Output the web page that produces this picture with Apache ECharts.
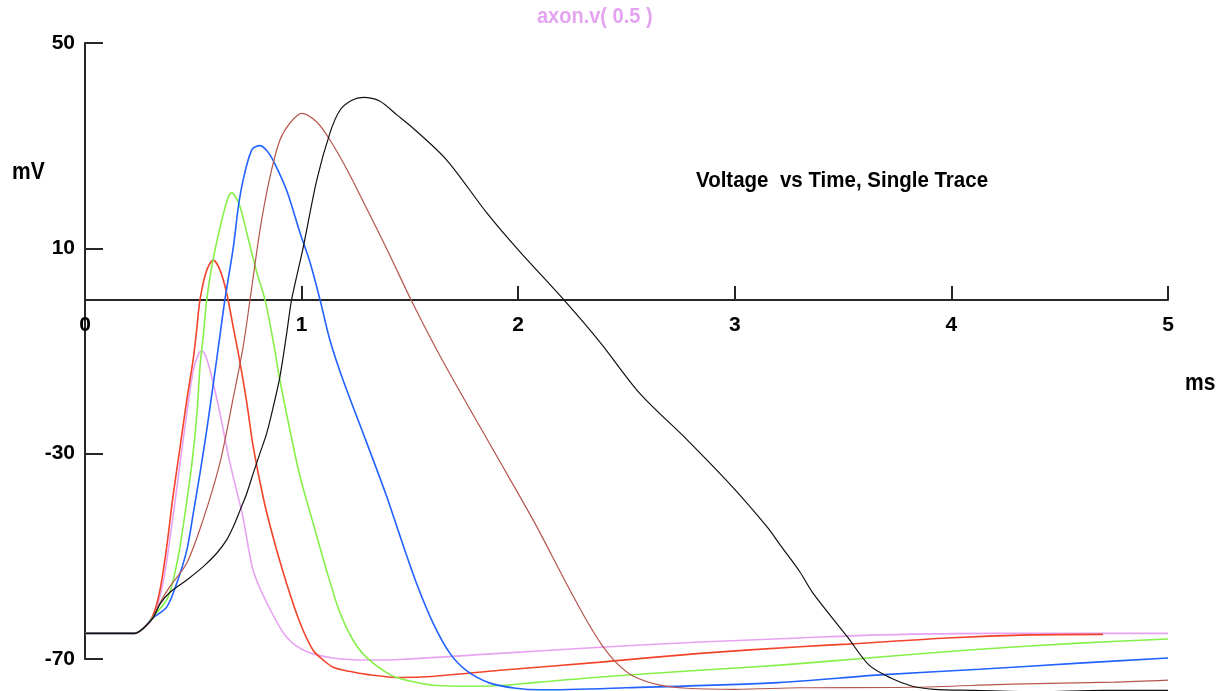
<!DOCTYPE html>
<html>
<head>
<meta charset="utf-8">
<title>axon.v( 0.5 )</title>
<script src="https://cdn.jsdelivr.net/npm/echarts@6/dist/echarts.min.js"></script>
<style>
	html, body {
		margin: 0;
		padding: 0;
		background: #fff;
	}

	#chart {
		width: 1223px;
		height: 691px;
	}
</style>
</head>

<body>
	<div id="chart"></div>
	<script>
		// 坐标轴刻度
		var xTicks = [0, 1, 2, 3, 4, 5];
		var yTicks = [-70, -30, 10, 50];

		// 各条曲线 [t(ms), v(mV)]
		var traceViolet = [[0, -65], [0.23, -65], [0.27, -64], [0.314, -61.8], [0.36, -55.2], [0.406, -42.3], [0.439, -31.8], [0.47, -22.1], [0.5, -13.7], [0.525, -10.5], [0.539, -10], [0.555, -10.8], [0.577, -13.7], [0.623, -22.1], [0.669, -31.8], [0.729, -42.3], [0.776, -52.7], [0.84, -59.1], [0.93, -65.7], [1.025, -68.6], [1.145, -69.8], [1.3, -70.2], [1.454, -70.1], [1.916, -68.9], [2.38, -67.7], [2.84, -66.7], [3.3, -65.9], [3.67, -65.3], [4.2, -65], [5, -65]];
		var traceRed = [[0, -65], [0.23, -65], [0.27, -64], [0.314, -61.5], [0.346, -56.6], [0.377, -48.2], [0.406, -38.4], [0.439, -28.7], [0.47, -19.5], [0.5, -11.5], [0.517, -5.3], [0.531, 0], [0.56, 5.5], [0.592, 7.7], [0.623, 5.8], [0.654, 1.3], [0.685, -5.5], [0.716, -12.3], [0.747, -20.1], [0.776, -28.5], [0.822, -38.4], [0.868, -46.2], [0.93, -55.2], [0.993, -63], [1.053, -68.3], [1.1, -70.2], [1.145, -71.6], [1.22, -72.4], [1.3, -73], [1.454, -73.6], [1.6, -73.4], [1.916, -72.2], [2.38, -70.6], [2.84, -68.9], [3.3, -67.6], [3.52, -67.1], [3.98, -65.9], [4.36, -65.3], [4.7, -65.2]];
		var traceGreen = [[0, -65], [0.23, -65], [0.27, -64], [0.314, -61.8], [0.383, -58], [0.43, -50.1], [0.462, -41.6], [0.494, -31.8], [0.517, -22.1], [0.531, -13], [0.548, -6.2], [0.562, 0], [0.585, 6.4], [0.61, 11.6], [0.64, 16.9], [0.662, 20], [0.677, 20.8], [0.695, 20], [0.716, 18.1], [0.747, 13], [0.794, 5.2], [0.831, 0], [0.868, -7.9], [0.9, -15.7], [0.946, -25.4], [0.993, -34.5], [1.053, -43.5], [1.115, -52.7], [1.177, -61], [1.237, -66.3], [1.3, -69.7], [1.41, -73.1], [1.5, -74.3], [1.61, -75.1], [1.84, -75.3], [2.1, -74.5], [2.38, -73.5], [2.84, -72.2], [3.21, -71.2], [3.67, -69.6], [4.13, -68.1], [4.59, -66.9], [5, -66.1]];
		var traceBlue = [[0, -65], [0.23, -65], [0.27, -64], [0.314, -62], [0.377, -59.9], [0.424, -55.2], [0.47, -48.8], [0.5, -41.6], [0.531, -33.8], [0.562, -25.4], [0.592, -16.5], [0.623, -7], [0.646, 0], [0.685, 10.3], [0.708, 18.1], [0.73, 23.3], [0.77, 29.2], [0.808, 30], [0.84, 29], [0.868, 27.2], [0.93, 21.4], [0.993, 13], [1.04, 7.1], [1.085, 0], [1.131, -7.9], [1.19, -15.5], [1.3, -27.8], [1.39, -38], [1.454, -46], [1.53, -55.2], [1.607, -63], [1.685, -68.9], [1.76, -72.2], [1.87, -74.7], [1.99, -75.7], [2.1, -76], [2.5, -75.6], [3.2, -74.6], [3.67, -73.1], [4.13, -72], [4.59, -70.8], [5, -69.8]];
		var traceBrown = [[0, -65], [0.23, -65], [0.27, -64], [0.314, -62], [0.346, -59.1], [0.39, -56], [0.47, -51.3], [0.545, -42.9], [0.623, -31.8], [0.685, -19], [0.73, -9.2], [0.762, 0], [0.808, 13.6], [0.854, 23.9], [0.9, 31.1], [0.946, 34.4], [1.0, 36.3], [1.07, 34.6], [1.131, 31.1], [1.21, 25.3], [1.3, 17.8], [1.4, 9.3], [1.505, 0], [1.65, -11.8], [1.885, -29.3], [2.07, -43], [2.225, -55.5], [2.32, -62.8], [2.39, -67.5], [2.455, -70.8], [2.53, -73.3], [2.655, -75.1], [2.78, -75.7], [3.0, -75.9], [3.3, -75.6], [3.82, -75.5], [4.28, -74.9], [4.75, -74.5], [5, -74.1]];
		var traceBlack = [[0, -65], [0.23, -65], [0.27, -64], [0.314, -62], [0.346, -59.3], [0.39, -57.1], [0.47, -54.6], [0.546, -52], [0.608, -49.4], [0.654, -46.8], [0.685, -44.2], [0.716, -41], [0.747, -37.7], [0.777, -33.8], [0.808, -29.9], [0.839, -26], [0.869, -20.9], [0.9, -15], [0.931, -6.6], [0.954, 0], [1.008, 10.3], [1.07, 23.3], [1.131, 32.5], [1.177, 36.9], [1.23, 38.8], [1.285, 39.4], [1.36, 38.7], [1.44, 36], [1.515, 33.4], [1.67, 27.2], [1.855, 16.9], [2.0, 9.7], [2.21, 0], [2.38, -8.4], [2.56, -18.2], [2.78, -27.3], [2.99, -36.5], [3.15, -44.3], [3.21, -47.8], [3.3, -53], [3.36, -57.1], [3.52, -65.7], [3.62, -71.2], [3.72, -73.7], [3.82, -75.3], [3.92, -75.9], [4.1, -76.1], [4.4, -76.4], [4.7, -76.1], [5, -76.1]];

		var traces = [
			{ data: traceViolet, color: '#e8a2f2', width: 1.6 },
			{ data: traceRed, color: '#f2442a', width: 1.6 },
			{ data: traceGreen, color: '#86f04a', width: 1.6 },
			{ data: traceBlue, color: '#2262ff', width: 1.6 },
			{ data: traceBrown, color: '#b4564e', width: 1.2 },
			{ data: traceBlack, color: '#111111', width: 1.2 }
		];

		var series = [];
		traces.forEach(function (tr) {
			series.push({
				type: 'line',
				xAxisIndex: 0,
				yAxisIndex: 0,
				data: tr.data,
				showSymbol: false,
				smooth: 0.3,
				clip: false,
				silent: true,
				lineStyle: { color: tr.color, width: tr.width }
			});
		});

		var font = '"Liberation Sans", Arial, sans-serif';
		var axisColor = '#262626';
		var chart = echarts.init(document.getElementById('chart'));
		var option = {
			backgroundColor: '#fff',
			animation: false,
			// grid 0: 曲线和纵轴; grid 1: 只画在 0 mV 处的横轴
			grid: [
				{ left: 85, right: 55, top: 43, bottom: 32 },
				{ left: 85, right: 55, top: 43, height: 257 }
			],
			xAxis: [
				{
					type: 'value', gridIndex: 0, min: xTicks[0], max: xTicks[xTicks.length - 1],
					show: false
				},
				{
					type: 'value', gridIndex: 1, min: xTicks[0], max: xTicks[xTicks.length - 1],
					interval: 1,
					splitLine: { show: false },
					axisLine: { lineStyle: { color: axisColor, width: 2 } },
					axisTick: { inside: true, length: 14, lineStyle: { color: axisColor, width: 2 } },
					axisLabel: {
						margin: 15,
						color: '#000',
						fontFamily: font,
						fontWeight: 'bold',
						fontSize: 21
					}
				}
			],
			yAxis: [
				{
					type: 'value', gridIndex: 0,
					min: yTicks[0],
					max: yTicks[yTicks.length - 1],
					interval: 40,
					splitLine: { show: false },
					axisLine: { lineStyle: { color: axisColor, width: 2 } },
					axisTick: { inside: true, length: 18, lineStyle: { color: axisColor, width: 2 } },
					axisLabel: {
						margin: 10,
						color: '#000',
						fontFamily: font,
						fontWeight: 'bold',
						fontSize: 21
					}
				},
				{
					type: 'value', gridIndex: 1, min: 0, max: 50, show: false
				}
			],
			graphic: [
				{
					type: 'text', left: 537, top: 6, scaleY: 1.1,
					style: { text: 'axon.v( 0.5 )', fill: '#e4a4f0', font: 'bold 20px ' + font }
				},
				{
					type: 'text', left: 696, top: 169, scaleY: 1.12,
					style: { text: 'Voltage  vs Time, Single Trace', fill: '#000', font: 'bold 20.5px ' + font }
				},
				{
					type: 'text', left: 12, top: 161, scaleY: 1.1,
					style: { text: 'mV', fill: '#000', font: 'bold 21px ' + font }
				},
				{
					type: 'text', left: 1185, top: 372, scaleY: 1.1,
					style: { text: 'ms', fill: '#000', font: 'bold 21px ' + font }
				}
			],
			series: series
		};
		chart.setOption(option);
	</script>
</body>
</html>
